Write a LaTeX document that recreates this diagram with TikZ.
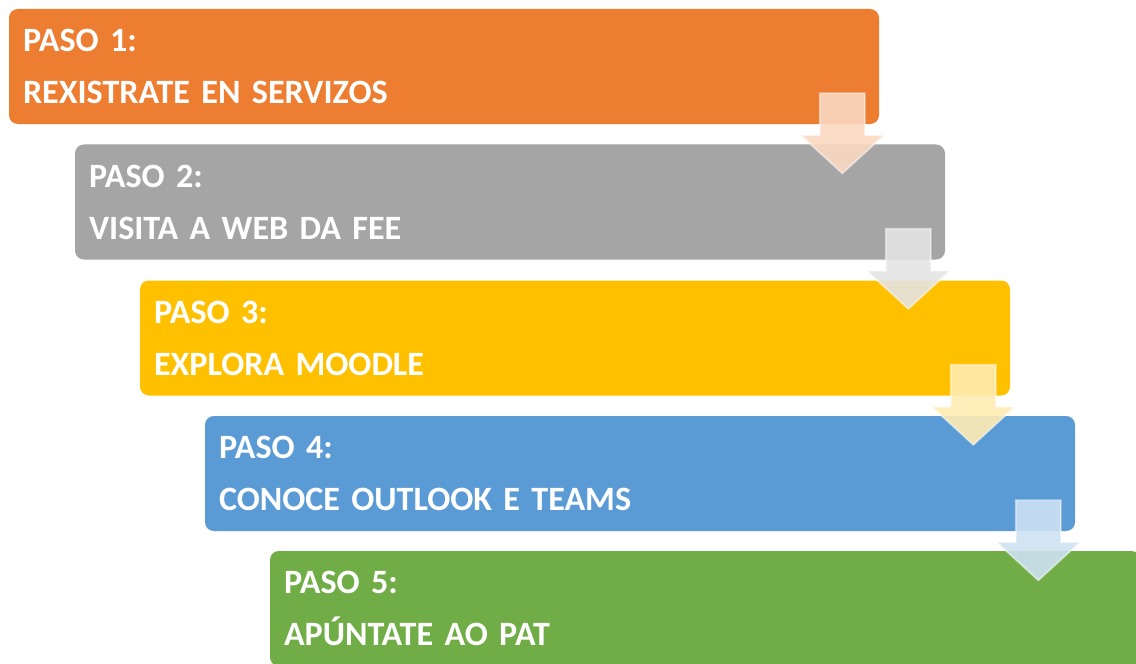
\documentclass[tikz,border=0pt]{standalone}
\usepackage{fontspec}
\setmainfont{Carlito}
\usepackage{tikz}
\usetikzlibrary{calc}
\definecolor{step1}{RGB}{237,125,49}
\definecolor{step2}{RGB}{165,165,165}
\definecolor{step3}{RGB}{255,192,0}
\definecolor{step4}{RGB}{91,155,213}
\definecolor{step5}{RGB}{112,173,71}
\newcommand{\stepfont}{\fontsize{19.4}{29.6}\selectfont\bfseries\spaceskip=0.19em\relax\xspaceskip=0.19em\relax}

\tikzset{
  stepbox/.style={rectangle, rounded corners=5pt, minimum width=17.4cm, minimum height=2.3cm,
    text width=16.84cm, inner xsep=0.28cm, align=left, text=white, font=\stepfont},
  downarr/.pic={
    \path[pic actions] (-0.45,0) -- (-0.45,-0.84) -- (-0.83,-0.84) -- (0,-1.6)
      -- (0.83,-0.84) -- (0.45,-0.84) -- (0.45,0) -- cycle;
  },
  flowarr/.style={fill=#1!30, draw=white, line width=1pt, fill opacity=0.9, draw opacity=0.5}
}

\begin{document}
\begin{tikzpicture}
    \useasboundingbox (0,0) rectangle (22.72,-13.28);
    \clip (0,0) rectangle (22.72,-13.28);

    % Steps
    \node[stepbox, fill=step1] (s1) at (8.88,-1.33) {PASO 1:\\REXISTRATE EN SERVIZOS};
    \node[stepbox, fill=step2] (s2) at (10.2,-4.04) {PASO 2:\\VISITA A WEB DA FEE};
    \node[stepbox, fill=step3] (s3) at (11.5,-6.76) {PASO 3:\\EXPLORA MOODLE};
    \node[stepbox, fill=step4] (s4) at (12.8,-9.47) {PASO 4:\\CONOCE OUTLOOK E TEAMS};
    \node[stepbox, fill=step5] (s5) at (14.1,-12.17) {PASO 5:\\APÚNTATE AO PAT};

    % Arrows between steps
    \foreach \i/\c in {1/step1,2/step2,3/step3,4/step4}{
        \coordinate (a\i) at ($(s\i.south east)+(-0.74,0.62)$);
        \pic[flowarr=\c] at (a\i) {downarr};
    }
\end{tikzpicture}
\end{document}
